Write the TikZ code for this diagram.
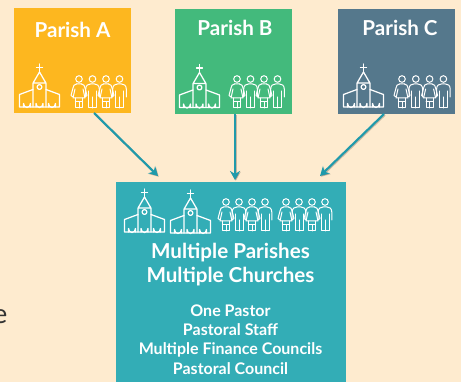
\documentclass[tikz,border=0pt]{standalone}
\usepackage{fontspec}
\setmainfont{Lato}
\usetikzlibrary{arrows.meta,calc}
\definecolor{bgc}{HTML}{FEEBCF}
\definecolor{cola}{HTML}{FDB71F}
\definecolor{colb}{HTML}{43BA7C}
\definecolor{colc}{HTML}{55788C}
\definecolor{colm}{HTML}{33ADB6}
\definecolor{colar}{HTML}{1F9AAB}
\tikzset{
  pbox/.style={minimum width=117, minimum height=105, inner sep=0, outer sep=0},
  mbox/.style={fill=colm, minimum width=230, minimum height=200, inner sep=0, outer sep=0},
  ttl/.style={text=white, font=\bfseries\fontsize{20.6}{24}\selectfont, inner sep=0},
  bigt/.style={text=white, font=\bfseries\fontsize{20.6}{24}\selectfont, align=center, inner sep=0},
  smallt/.style={text=white, font=\bfseries\fontsize{16}{19.2}\selectfont, align=center, inner sep=0},
  ico/.style={draw=white, line width=1.25, line join=round, line cap=round, fill=none},
  icp/.style={draw=white, line width=1, line join=round, line cap=round, fill=none},
  conn/.style={draw=colar, line width=2.1, -{Stealth[length=9,width=10]},
     preaction={draw=black, opacity=.22, line width=2.1, transform canvas={shift={(.8,.8)}}}},
}
\newcommand{\churchic}[2]{%
  \begin{scope}[shift={(#1,#2)}]
    \draw[ico] (0,0) -- (40,0) -- (40,-12.5) -- (26.5,-17.5) (0,0) -- (0,-12.5) -- (13.5,-17.5);
    \draw[ico] (13.6,0) -- (13.6,-24) -- (20,-35) -- (26.4,-24) -- (26.4,0) (13.6,-24) -- (26.4,-24);
    \draw[ico] (20,-35) -- (20,-43) (17,-39.5) -- (23,-39.5);
    \draw[ico] (20,-20) circle (2.4);
    \foreach \cx in {7.5,20,32.5}{
      \draw[ico] (\cx-3.5,0) -- (\cx-3.5,-3.5) arc (180:0:3.5 and 4) -- (\cx+3.5,0);}
  \end{scope}}
\newcommand{\womanic}[2]{%
  \begin{scope}[shift={(#1,#2)}]
    \draw[icp] (0,-29) circle (3.3);
    \draw[icp] (-2.5,-24) .. controls (-5,-24) and (-5.5,-22) .. (-6,-20) -- (-8,-12.5) -- (-6.5,-11.5) (2.5,-24) .. controls (5,-24) and (5.5,-22) .. (6,-20) -- (8,-12.5) -- (6.5,-11.5);
    \draw[icp] (-2.5,-24) -- (2.5,-24) (-4,-19) -- (-6,-10) -- (6,-10) -- (4,-19);
    \draw[icp] (-3.6,-10) -- (-3.6,0) -- (3.6,0) -- (3.6,-10) (0,-6) -- (0,0) (-3.6,-6) -- (3.6,-6);
  \end{scope}}
\newcommand{\manic}[2]{%
  \begin{scope}[shift={(#1,#2)}]
    \draw[icp] (0,-29) circle (3.3);
    \draw[icp] (-6.8,-11) -- (-6.8,-19) .. controls (-6.8,-23) and (-4,-24) .. (-2,-24) -- (2,-24) .. controls (4,-24) and (6.8,-23) .. (6.8,-19) -- (6.8,-11);
    \draw[icp] (-4,-17) -- (-4,0) -- (4,0) -- (4,-17) (0,-11) -- (0,0);
  \end{scope}}
\newcommand{\groupic}[3]{% x of first head, base y, spacing
  \womanic{#1}{#2}
  \manic{#1+#3}{#2}
  \womanic{#1+2*#3}{#2}
  \manic{#1+3*#3}{#2}}
\begin{document}
\begin{tikzpicture}[x=1pt,y=-1pt]
  \useasboundingbox (0,0) rectangle (461,382);
  \fill[bgc] (0,0) rectangle (461,382);
  \node[pbox, fill=cola] (pa) at (72.5,60.5) {};
  \node[pbox, fill=colb] (pb) at (233.5,61.5) {};
  \node[pbox, fill=colc] (pc) at (396.5,61.5) {};
  \node[mbox] (pm) at (231,282) {};
  \node[ttl] (ta) at (72.5,29.5) {Parish A};
  \node[ttl] (tb) at (235,27.5) {Parish B};
  \node[ttl] (tc) at (400,27.5) {Parish C};
  \node[bigt] (tm) at (230.5,264.5) {Multiple Parishes\\Multiple Churches};
  \node[smallt] (tl) at (230.5,339.5) {One Pastor\\Pastoral Staff\\Multiple Finance Councils\\Pastoral Council};
  \node[anchor=base east, inner sep=0, text=black!80, font=\fontsize{27}{30}\selectfont] (frag) at (7.5,324) {e};
  \churchic{19.5}{107}
  \groupic{79}{108}{13.5}
  \churchic{179.5}{107.5}
  \groupic{237}{108}{13.5}
  \churchic{343.5}{107}
  \groupic{402}{108}{13.8}
  \churchic{124.5}{232}
  \churchic{170.5}{233}
  \groupic{226}{231}{13}
  \groupic{286}{231}{13}
  \coordinate (ea) at (158,176);
  \coordinate (eb) at (235,180);
  \coordinate (ec) at (320,176);
  \draw[conn] ([xshift=21.5]pa.south) -- (ea);
  \draw[conn] ([xshift=1.5]pb.south) -- (eb);
  \draw[conn] ([xshift=-12.5]pc.south) -- (ec);
\end{tikzpicture}
\end{document}
